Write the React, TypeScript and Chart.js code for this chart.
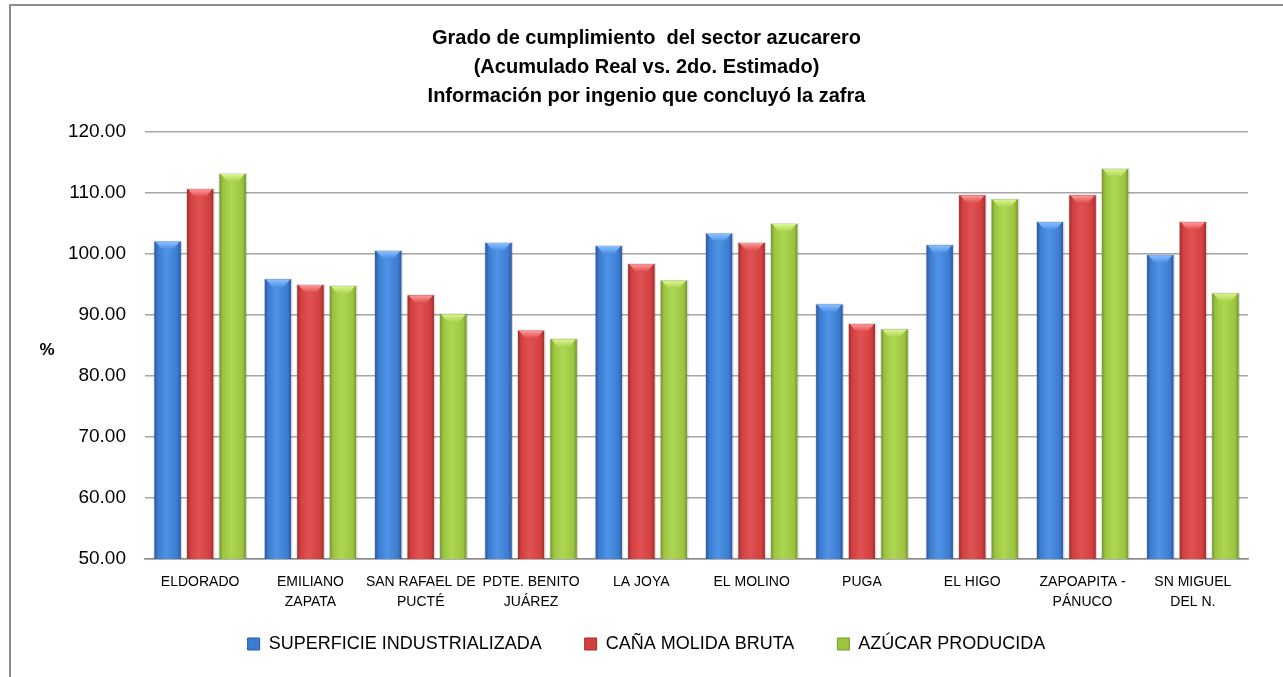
import React, { useEffect, useRef } from "react";
import { Chart, registerables } from "chart.js";

Chart.register(...registerables);

const titleLines = [
  "Grado de cumplimiento  del sector azucarero",
  "(Acumulado Real vs. 2do. Estimado)",
  "Información por ingenio que concluyó la zafra",
];

const categories = [
  ["ELDORADO"],
  ["EMILIANO", "ZAPATA"],
  ["SAN RAFAEL DE", "PUCTÉ"],
  ["PDTE. BENITO", "JUÁREZ"],
  ["LA JOYA"],
  ["EL MOLINO"],
  ["PUGA"],
  ["EL HIGO"],
  ["ZAPOAPITA -", "PÁNUCO"],
  ["SN MIGUEL", "DEL N."],
];

const seriesNames = ["SUPERFICIE INDUSTRIALIZADA", "CAÑA MOLIDA BRUTA", "AZÚCAR PRODUCIDA"];

const superficie = [102.0, 95.8, 100.5, 101.8, 101.3, 103.3, 91.7, 101.4, 105.2, 99.8];
const cana = [110.6, 94.9, 93.2, 87.4, 98.3, 101.8, 88.5, 109.6, 109.6, 105.2];
const azucar = [113.1, 94.7, 90.1, 86.0, 95.6, 104.9, 87.6, 108.9, 113.9, 93.5];

const yMin = 50;
const yMax = 120;
const yStep = 10;

const FONT = '"Liberation Sans", Arial, sans-serif';

const palettes = [
  { base: "#3b7bd0", dark: "#2a5a9e", light: "#4f93e6", top: "#8cc0ff" },
  { base: "#d23f3f", dark: "#a32c2c", light: "#e05252", top: "#ff9a9a" },
  { base: "#9cc43f", dark: "#76982c", light: "#add653", top: "#dcf590" },
];

const framePlugin = {
  id: "frame",
  afterLayout(chart: any) {
    const xs = chart.scales.x;
    if (xs) xs.bottom = xs.top + 60;
  },
  beforeDraw(chart: any) {
    const { ctx, width, height } = chart;
    ctx.save();
    ctx.fillStyle = "#ffffff";
    ctx.fillRect(0, 0, width, height);
    ctx.strokeStyle = "#8c8c8c";
    ctx.lineWidth = 2;
    ctx.beginPath();
    ctx.moveTo(10, height);
    ctx.lineTo(10, 5);
    ctx.lineTo(width, 5);
    ctx.stroke();
    ctx.restore();
  },
  afterDraw(chart: any) {
    const { ctx, chartArea } = chart;
    ctx.save();
    ctx.fillStyle = "#000000";
    ctx.font = `bold 17px ${FONT}`;
    ctx.textAlign = "center";
    ctx.textBaseline = "middle";
    ctx.fillText("%", 47, (chartArea.top + chartArea.bottom) / 2 + 5);
    ctx.restore();
  },
};

const bevelPlugin = {
  id: "bevel",
  afterDatasetsDraw(chart: any) {
    const { ctx, chartArea } = chart;
    ctx.save();
    ctx.beginPath();
    ctx.rect(chartArea.left, chartArea.top - 20, chartArea.right - chartArea.left, chartArea.bottom - chartArea.top + 20);
    ctx.clip();
    chart.data.datasets.forEach((ds: any, di: number) => {
      const meta = chart.getDatasetMeta(di);
      const p = palettes[di];
      meta.data.forEach((bar: any) => {
        const { x, y, width } = bar.getProps(["x", "y", "width"], true);
        const base = chartArea.bottom;
        const l = x - width / 2;
        const r = x + width / 2;
        const h = base - y;
        ctx.fillStyle = "rgba(0,0,0,0.14)";
        ctx.fillRect(l - 1, y - 1, width + 2.5, h + 1);
        const g = ctx.createLinearGradient(l, 0, r, 0);
        g.addColorStop(0, p.dark);
        g.addColorStop(0.12, p.base);
        g.addColorStop(0.45, p.light);
        g.addColorStop(0.88, p.base);
        g.addColorStop(1, p.dark);
        ctx.fillStyle = g;
        ctx.fillRect(l, y, width, h);
        const bh = 7;
        const tg = ctx.createLinearGradient(0, y, 0, y + bh);
        tg.addColorStop(0, p.top);
        tg.addColorStop(1, p.light);
        ctx.fillStyle = tg;
        ctx.beginPath();
        ctx.moveTo(l + 1, y);
        ctx.lineTo(r - 1, y);
        ctx.lineTo(r - 7, y + bh);
        ctx.lineTo(l + 7, y + bh);
        ctx.closePath();
        ctx.fill();
      });
    });
    ctx.restore();
  },
};

export default function App() {
  const ref = useRef<HTMLCanvasElement>(null);

  useEffect(() => {
    const canvas = ref.current;
    if (!canvas) return;
    const data = [superficie, cana, azucar];
    const chart = new Chart(canvas, {
      type: "bar",
      data: {
        labels: categories,
        datasets: data.map((vals, i) => ({
          label: seriesNames[i],
          data: vals,
          backgroundColor: palettes[i].base,
          borderWidth: 0,
          categoryPercentage: 0.885,
          barPercentage: 0.8,
          yAxisID: "y",
        })),
      },
      options: {
        responsive: false,
        animation: false,
        devicePixelRatio: 1,
        layout: { padding: { left: 10, right: 0, top: 24, bottom: 14 } },
        plugins: {
          title: {
            display: true,
            text: titleLines,
            color: "#000000",
            font: { family: FONT, size: 20, weight: "bold", lineHeight: 1.45 },
            padding: { top: 0, bottom: 21 },
          },
          legend: {
            position: "bottom",
            maxHeight: 71,
            labels: {
              color: "#000000",
              font: { family: FONT, size: 18 },
              boxWidth: 12,
              boxHeight: 12,
              padding: 43,
              generateLabels: (c: any) =>
                c.data.datasets.map((ds: any, i: number) => ({
                  text: ds.label,
                  fillStyle: palettes[i].base,
                  strokeStyle: palettes[i].dark,
                  lineWidth: 1,
                  hidden: false,
                  datasetIndex: i,
                })),
            },
          },
          tooltip: { enabled: false },
        },
        scales: {
          x: {
            afterFit: (s: any) => {
              s.height = 33;
            },
            grid: { display: false },
            border: { display: true, color: "#8a8a8a", width: 1.5 },
            ticks: {
              color: "#000000",
              font: { family: FONT, size: 14, lineHeight: 1.45 },
              maxRotation: 0,
              autoSkip: false,
              padding: 5,
            },
          },
          y: {
            min: yMin,
            max: yMax,
            afterFit: (s: any) => {
              s.width = 135;
            },
            border: { display: false },
            grid: { color: "#a6a6a6", lineWidth: 1.5, drawTicks: false },
            ticks: {
              stepSize: yStep,
              color: "#000000",
              font: { family: FONT, size: 19 },
              padding: 19,
              callback: (v: any) => Number(v).toFixed(2),
            },
          },
          yRight: {
            position: "right",
            afterFit: (s: any) => {
              s.width = 35;
            },
            border: { display: false },
            grid: { display: false },
            ticks: { display: false },
          },
        },
      },
      plugins: [framePlugin, bevelPlugin],
    });
    return () => chart.destroy();
  }, []);

  return (
    <div style={{ position: "absolute", left: 0, top: 0, width: 1283, height: 677 }}>
      <canvas ref={ref} width={1283} height={677} style={{ display: "block" }} />
    </div>
  );
}
